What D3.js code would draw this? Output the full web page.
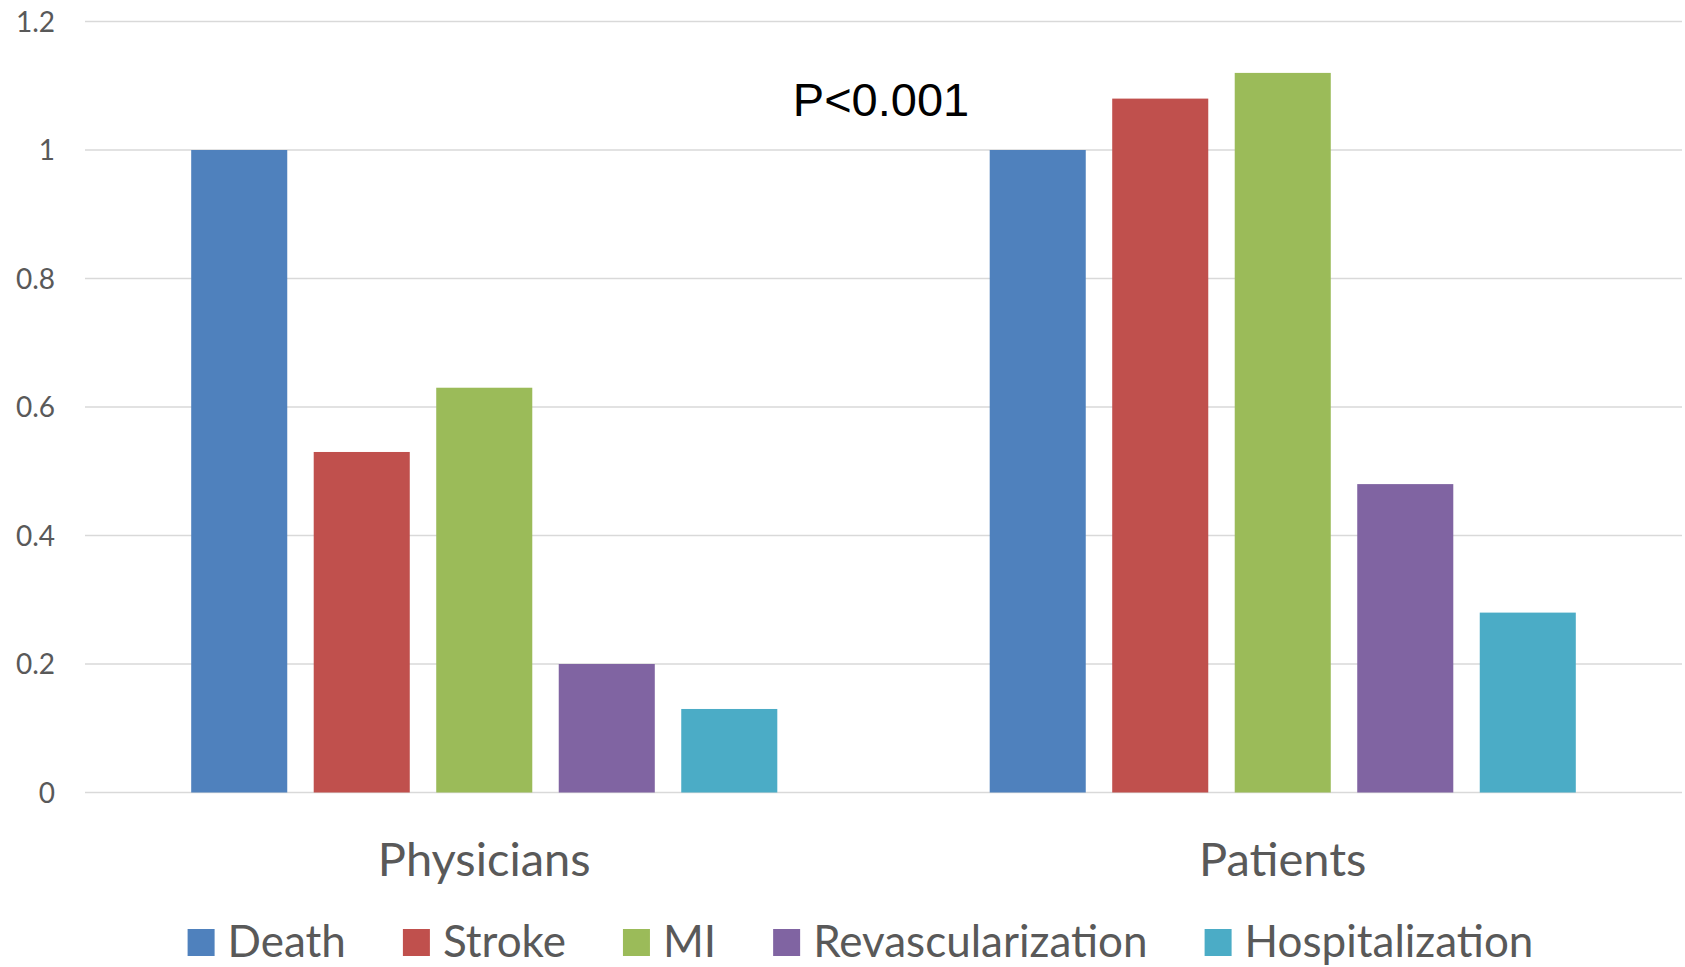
<!DOCTYPE html>
<html>
<head>
<meta charset="utf-8">
<script src="https://cdn.jsdelivr.net/npm/d3@7"></script>
<style>
  html, body { margin: 0; padding: 0; background: #ffffff; }
  svg { display: block; }
</style>
</head>
<body>
<svg id="chart" width="1685" height="967"></svg>
<script>
// Groups along the x axis and the outcomes drawn within each group
const categories = ["Physicians", "Patients"];
const seriesNames = ["Death", "Stroke", "MI", "Revascularization", "Hospitalization"];
const physiciansValues = [1, 0.53, 0.63, 0.2, 0.13];
const patientsValues = [1, 1.08, 1.12, 0.48, 0.28];
const seriesColors = ["#4F81BD", "#C0504D", "#9BBB59", "#8064A2", "#4BACC6"];
const yTicks = [0, 0.2, 0.4, 0.6, 0.8, 1, 1.2];
const yTickLabels = ["0", "0.2", "0.4", "0.6", "0.8", "1", "1.2"];
const annotation = "P<0.001";

const valuesByCategory = { "Physicians": physiciansValues, "Patients": patientsValues };
const rows = categories.map(c => ({
  category: c,
  values: seriesNames.map((s, i) => ({ series: s, value: valuesByCategory[c][i], color: seriesColors[i] }))
}));

const svg = d3.select("#chart");
const textColor = "#595959";
const font = "Lato, 'Open Sans', sans-serif";

const plot = { left: 85, right: 1682, top: 21.5, bottom: 792.5 };

const y = d3.scaleLinear().domain([0, 1.2]).range([plot.bottom, plot.top]);

const x0 = d3.scaleBand()
  .domain(categories)
  .range([plot.left, plot.right])
  .paddingInner(0.266)
  .paddingOuter(0.133);

const x1 = d3.scaleBand()
  .domain(seriesNames)
  .range([0, x0.bandwidth()])
  .paddingInner(0.216)
  .paddingOuter(0);

// Horizontal gridlines
svg.append("g")
  .selectAll("line")
  .data(yTicks)
  .join("line")
  .attr("x1", plot.left)
  .attr("x2", plot.right)
  .attr("y1", d => y(d))
  .attr("y2", d => y(d))
  .attr("stroke", "#d9d9d9")
  .attr("stroke-width", 1.5);

// Y axis labels
const yAxis = d3.axisLeft(y)
  .tickValues(yTicks)
  .tickFormat((d, i) => yTickLabels[i])
  .tickSize(0)
  .tickPadding(0);

const yAxisG = svg.append("g")
  .attr("transform", `translate(55,0)`)
  .call(yAxis);
yAxisG.select(".domain").remove();
yAxisG.selectAll("text")
  .attr("fill", textColor)
  .style("font-family", font)
  .style("font-size", "28px")
  .attr("dy", "0.35em");

// Bars
const groups = svg.append("g")
  .selectAll("g")
  .data(rows)
  .join("g")
  .attr("transform", d => `translate(${x0(d.category)},0)`);

groups.selectAll("rect")
  .data(d => d.values)
  .join("rect")
  .attr("x", d => x1(d.series))
  .attr("width", x1.bandwidth())
  .attr("y", d => y(d.value))
  .attr("height", d => y(0) - y(d.value))
  .attr("fill", d => d.color);

// Category labels
const xAxis = d3.axisBottom(x0).tickSize(0).tickPadding(0);
const xAxisG = svg.append("g")
  .attr("transform", `translate(0,876)`)
  .call(xAxis);
xAxisG.select(".domain").remove();
xAxisG.selectAll("text")
  .attr("fill", textColor)
  .attr("dy", "0")
  .attr("y", 0)
  .style("font-family", font)
  .style("font-size", "47px");

// Significance annotation
svg.append("text")
  .attr("x", 881)
  .attr("y", 116)
  .attr("text-anchor", "middle")
  .attr("fill", "#000000")
  .style("font-family", "'Liberation Sans', Arial, sans-serif")
  .style("font-size", "47px")
  .text(annotation);

// Legend, centred as a row below the category labels
const legend = svg.append("g");
const swatch = 27, swatchGap = 13, itemGap = 57, legendBaseline = 957;
const items = legend.selectAll("g")
  .data(seriesNames.map((s, i) => ({ name: s, color: seriesColors[i] })))
  .join("g");

items.append("rect")
  .attr("width", swatch)
  .attr("height", swatch)
  .attr("y", legendBaseline - 28)
  .attr("fill", d => d.color);

items.append("text")
  .attr("x", swatch + swatchGap)
  .attr("y", legendBaseline)
  .attr("fill", textColor)
  .style("font-family", font)
  .style("font-size", "44px")
  .text(d => d.name);

let offset = 0;
const widths = [];
items.each(function() {
  const w = swatch + swatchGap + this.querySelector("text").getComputedTextLength();
  widths.push(w);
});
const total = d3.sum(widths) + itemGap * (widths.length - 1);
offset = 860.5 - total / 2;
items.attr("transform", (d, i) => {
  const t = `translate(${offset},0)`;
  offset += widths[i] + itemGap;
  return t;
});
</script>
</body>
</html>
